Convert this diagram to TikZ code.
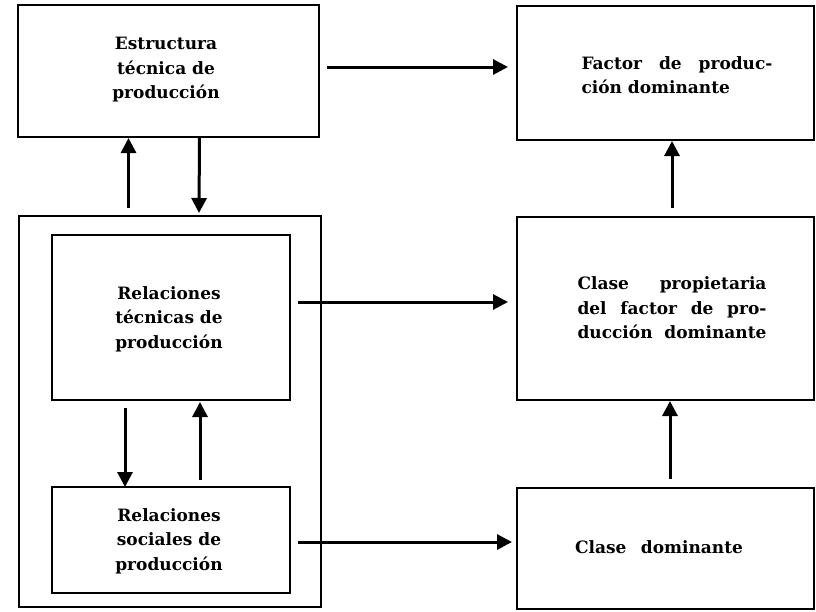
\documentclass[tikz,border=0pt]{standalone}
\usepackage{fontspec}
\setmainfont{DejaVu Serif}
\usetikzlibrary{arrows.meta,calc}
\begin{document}
\begin{tikzpicture}[x=1pt,y=-1pt,
  box/.style={draw=black,line width=2.6pt,rectangle,inner sep=0pt,outer sep=0pt},
  lbl/.style={font=\fontsize{17}{24.5}\selectfont\bfseries,align=center},
  arr/.style={line width=3pt,-{Triangle[length=15pt,width=15pt]}}]
\useasboundingbox (0,0) rectangle (816,611);
\fill[white] (0,0) rectangle (816,611);
% boxes
\node[box,minimum width=301pt,minimum height=132pt] (A) at (168.5,71) {};
\node[box,minimum width=297pt,minimum height=134pt] (B) at (665.5,73) {};
\node[box,minimum width=302pt,minimum height=391pt] (O) at (170,411.5) {};
\node[box,minimum width=238pt,minimum height=165pt] (C) at (171,317.5) {};
\node[box,minimum width=238pt,minimum height=106pt] (D) at (171,540) {};
\node[box,minimum width=297pt,minimum height=183pt] (E) at (665.5,308.5) {};
\node[box,minimum width=297pt,minimum height=121pt] (F) at (665.5,548.5) {};
% labels
\node[lbl] (tA) at (166,70) {Estructura\\técnica de\\producción};
\node[lbl,align=left] (tB) at (677,75) {\makebox[191pt][s]{Factor de produc-}\\ción dominante};
\node[lbl] (tC) at (169,319) {Relaciones\\técnicas de\\producción};
\node[lbl] (tD) at (169,541) {Relaciones\\sociales de\\producción};
\node[lbl,align=left] (tE) at (672,308) {\makebox[189pt][s]{Clase propietaria}\\\makebox[189pt][s]{del factor de pro-}\\\makebox[189pt][s]{ducción dominante}};
\node[lbl] (tF) at (659,547) {\makebox[168pt][s]{Clase dominante}};
% connectors
\draw[arr] ($(A.east)+(8,-4)$) -- ($(B.west)+(-9,-6)$);
\draw[arr] ($(A.south)+(-40,71)$) -- ($(A.south)+(-40,1)$);
\draw[arr] ($(A.south)+(31,0)$) -- ($(O.north)+(29,-3)$);
\draw[arr] ($(E.north)+(6.5,-9)$) -- ($(B.south)+(6.5,1)$);
\draw[arr] ($(C.east)+(8,-15.5)$) -- ($(E.west)+(-9,-6.5)$);
\draw[arr] ($(C.south)+(-46,8)$) -- ($(D.north)+(-46,0)$);
\draw[arr] ($(D.north)+(29,-7)$) -- ($(C.south)+(29,2)$);
\draw[arr] ($(D.east)+(8,2)$) -- ($(F.west)+(-5,-6.5)$);
\draw[arr] ($(F.north)+(4.5,-9)$) -- ($(E.south)+(4.5,1)$);
\end{tikzpicture}
\end{document}
